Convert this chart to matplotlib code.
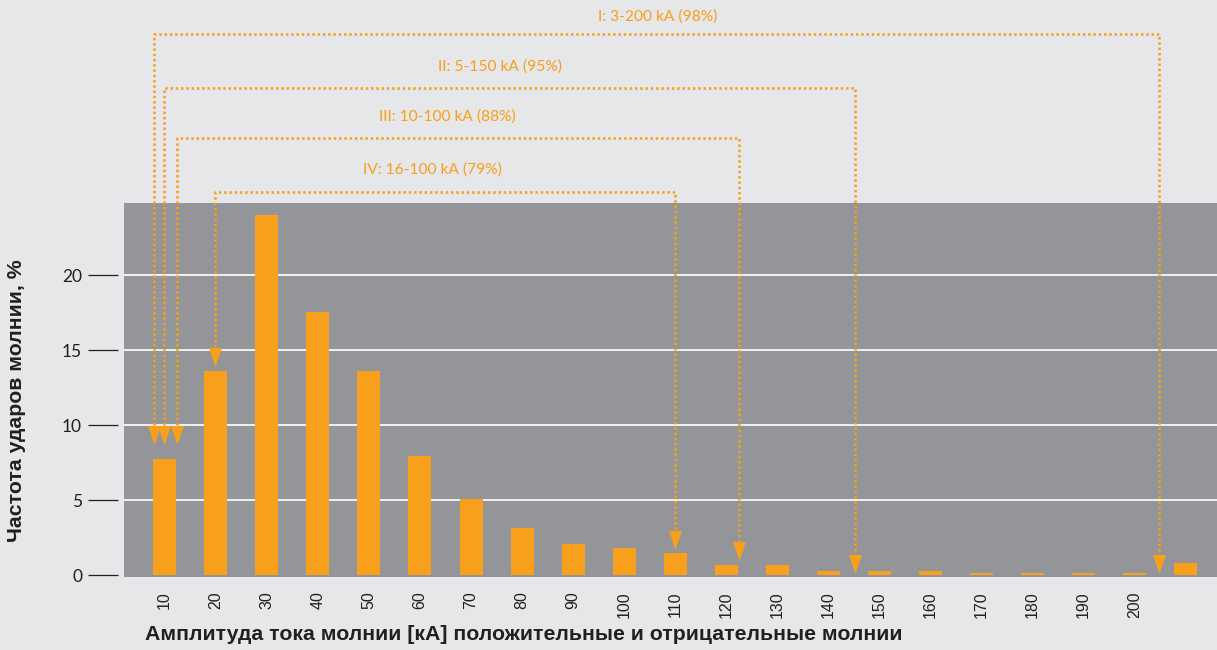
import numpy as np
import matplotlib
matplotlib.use("Agg")
import matplotlib.pyplot as plt

# ---------------- data ----------------
categories = ['10', '20', '30', '40', '50', '60', '70', '80', '90', '100',
              '110', '120', '130', '140', '150', '160', '170', '180', '190', '200', '']
frequency = [7.75, 13.6, 24.0, 17.55, 13.6, 7.95, 5.05, 3.15, 2.1, 1.82,
             1.48, 0.67, 0.67, 0.29, 0.29, 0.29, 0.15, 0.15, 0.15, 0.15, 0.78]
y_ticks = [0, 5, 10, 15, 20]
grid_vals = [5, 10, 15, 20]

range_labels = ['I: 3-200 kA (98%)', 'II: 5-150 kA (95%)',
                'III: 10-100 kA (88%)', 'IV: 16-100 kA (79%)']
range_left = [-0.204, -0.014, 0.235, 0.99]      # bar-index units
range_right = [19.48, 13.52, 11.25, 10.0]
left_tip = [8.73, 8.73, 8.73, 13.93]            # arrow tip heights (%)
right_tip = [0.13, 0.13, 1.0, 1.67]
bracket_level = [36.07, 32.47, 29.15, 25.55]    # horizontal line heights
label_level = [37.2, 33.9, 30.55, 27.0]
label_x = [9.65, 6.57, 5.53, 5.25]

# ---------------- style ----------------
BG = '#e6e7e8'
PLOT_BG = '#939598'
ORANGE = '#f89f1b'
DARK = '#231f20'

fig = plt.figure(figsize=(12.17, 6.5), dpi=100, facecolor=BG)
ax = fig.add_axes([124/1217, 1-577/650, 1-124/1217, (577-203)/650])
ax.set_facecolor(PLOT_BG)

x = np.arange(len(categories))
ax.bar(x, frequency, width=0.45, color=ORANGE, zorder=3)

for g in grid_vals:
    ax.axhline(g, color='white', lw=1.2, zorder=1)

ax.set_xlim(-0.797, 20.61)
ax.set_ylim(-0.133, 24.8)

for s in ax.spines.values():
    s.set_visible(False)
ax.spines['left'].set_position(('outward', 6*0.72))

ax.set_yticks(y_ticks)
ax.set_yticklabels([str(v) for v in y_ticks], fontfamily='Lato', fontsize=12.5, color=DARK)
ax.tick_params(axis='y', length=21.6, width=0.9, color=DARK, pad=4.3)

ax.set_xticks(x)
ax.set_xticklabels(categories, rotation=90, fontfamily='Liberation Sans', fontsize=11.5, color=DARK)
ax.tick_params(axis='x', length=0, pad=10.5)

# brackets
tri = [(-6.5, 9.5), (6.5, 9.5), (0, -9.5)]
tri_h = 19/15.0
dot = (0, (0.9, 1.1))
for lab, xl, xr, tl, tr, lev, ly, lx in zip(range_labels, range_left, range_right,
                                            left_tip, right_tip, bracket_level,
                                            label_level, label_x):
    ax.plot([xl, xl, xr, xr], [tl + tri_h, lev, lev, tr + tri_h], color=ORANGE,
            lw=1.9, ls=dot, clip_on=False, zorder=4, solid_capstyle='butt',
            dash_capstyle='butt')
    ax.plot([xl, xr], [tl + tri_h/2, tr + tri_h/2], ls='none', marker=tri,
            markersize=13.7, color=ORANGE, mew=0, clip_on=False, zorder=5)
    ax.text(lx, ly, lab, ha='center', va='center', color=ORANGE,
            fontfamily='Lato', fontsize=11.2, clip_on=False)

fig.text(17/1217, 1-401/650, 'Частота ударов молнии, %', rotation=90,
         ha='center', va='center', fontfamily='Liberation Sans',
         fontweight='bold', fontsize=15.3, color=DARK)
fig.text(145/1217, 1-634/650,
         'Амплитуда тока молнии [кА] положительные и отрицательные молнии',
         ha='left', va='center', fontfamily='Liberation Sans',
         fontweight='bold', fontsize=15.3, color=DARK)

fig.savefig('out.png', dpi=100, facecolor=BG)
